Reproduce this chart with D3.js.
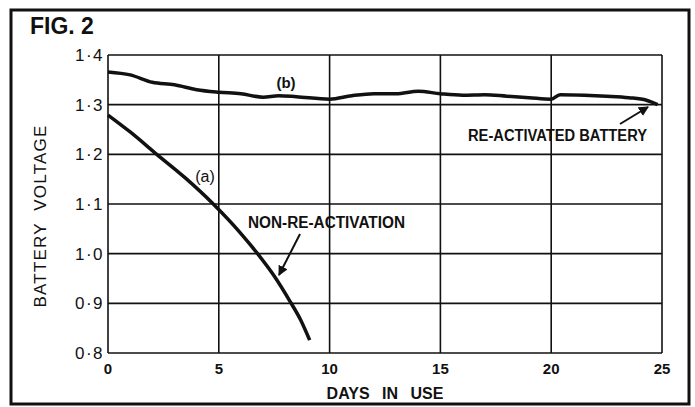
<!DOCTYPE html>
<html>
<head>
<meta charset="utf-8">
<script src="https://cdn.jsdelivr.net/npm/d3@7"></script>
<style>
  body { margin: 0; background: #fff; }
  text { font-family: "Liberation Sans", "DejaVu Sans", sans-serif; fill: #111; }
</style>
</head>
<body>
<div id="chart"></div>
<script>
// days and voltages
var daysA = [0, 1, 2.2, 3.5, 4.75, 5.95, 6.75, 7.5, 8.2, 8.7, 9.1];
var voltA = [1.279, 1.245, 1.200, 1.152, 1.100, 1.043, 1.000, 0.955, 0.905, 0.866, 0.826];

var daysB = [0, 1, 2, 3, 4, 5, 6, 7, 7.7, 8.5, 10, 11, 12, 13, 14, 15, 16, 17, 18, 19, 20, 20.4, 21.5, 22.5, 23.5, 24.3, 24.8];
var voltB = [1.366, 1.360, 1.345, 1.340, 1.330, 1.325, 1.322, 1.315, 1.318, 1.316, 1.311, 1.318, 1.322, 1.322, 1.327, 1.322, 1.319, 1.320, 1.317, 1.314, 1.311, 1.320, 1.319, 1.317, 1.314, 1.309, 1.300];

var xTicks = [0, 5, 10, 15, 20, 25];
var yTicks = [0.8, 0.9, 1.0, 1.1, 1.2, 1.3, 1.4];
var yTickLabels = ["0·8", "0·9", "1·0", "1·1", "1·2", "1·3", "1·4"];

var W = 695, H = 407;
var svg = d3.select("#chart").append("svg")
	.attr("width", W)
	.attr("height", H);

// outer frame
svg.append("rect")
	.attr("x", 11).attr("y", 10)
	.attr("width", 678).attr("height", 394)
	.attr("fill", "none")
	.attr("stroke", "#111")
	.attr("stroke-width", 3);

svg.append("text")
	.attr("x", 30).attr("y", 34)
	.attr("font-size", 23)
	.attr("font-weight", "bold")
	.text("FIG. 2");

var x = d3.scaleLinear().domain([0, 25]).range([108, 662]);
var y = d3.scaleLinear().domain([0.8, 1.4]).range([353, 55]);

// grid
svg.selectAll(".vgrid")
	.data(xTicks)
	.enter()
	.append("line")
	.attr("class", "vgrid")
	.attr("x1", function(d) { return x(d); })
	.attr("x2", function(d) { return x(d); })
	.attr("y1", y(1.4))
	.attr("y2", y(0.8))
	.attr("stroke", "#111")
	.attr("stroke-width", 1.6);

svg.selectAll(".hgrid")
	.data(yTicks)
	.enter()
	.append("line")
	.attr("class", "hgrid")
	.attr("x1", x(0))
	.attr("x2", x(25))
	.attr("y1", function(d) { return y(d); })
	.attr("y2", function(d) { return y(d); })
	.attr("stroke", "#111")
	.attr("stroke-width", 1.6);

// tick labels
svg.selectAll(".ylab")
	.data(yTicks)
	.enter()
	.append("text")
	.attr("class", "ylab")
	.attr("x", 104)
	.attr("y", function(d) { return y(d) + 6; })
	.attr("text-anchor", "end")
	.attr("font-size", 17)
	.attr("letter-spacing", 1.5)
	.text(function(d, i) { return yTickLabels[i]; });

svg.selectAll(".xlab")
	.data(xTicks)
	.enter()
	.append("text")
	.attr("class", "xlab")
	.attr("x", function(d) { return x(d); })
	.attr("y", 374)
	.attr("text-anchor", "middle")
	.attr("font-size", 15)
	.attr("font-weight", "bold")
	.text(function(d) { return d; });

svg.append("text")
	.attr("x", 385).attr("y", 399)
	.attr("text-anchor", "middle")
	.attr("font-size", 16)
	.attr("font-weight", "bold")
	.attr("word-spacing", 8)
	.text("DAYS IN USE");

svg.append("text")
	.attr("transform", "translate(46,216) rotate(-90)")
	.attr("text-anchor", "middle")
	.attr("font-size", 17)
	.attr("letter-spacing", 1.2)
	.attr("word-spacing", 6)
	.text("BATTERY VOLTAGE");

// curves
var line = d3.line()
	.x(function(d) { return x(d[0]); })
	.y(function(d) { return y(d[1]); })
	.curve(d3.curveMonotoneX);

svg.append("path")
	.datum(d3.zip(daysA, voltA))
	.attr("d", line)
	.attr("fill", "none")
	.attr("stroke", "#111")
	.attr("stroke-width", 3.5);

svg.append("path")
	.datum(d3.zip(daysB, voltB))
	.attr("d", line)
	.attr("fill", "none")
	.attr("stroke", "#111")
	.attr("stroke-width", 3.5);

// labels
svg.append("text")
	.attr("x", 205).attr("y", 182)
	.attr("text-anchor", "middle")
	.attr("font-size", 16)
	.text("(a)");

svg.append("text")
	.attr("x", 286).attr("y", 88)
	.attr("text-anchor", "middle")
	.attr("font-size", 15)
	.attr("font-weight", "bold")
	.text("(b)");

svg.append("text")
	.attr("x", 248).attr("y", 228)
	.attr("font-size", 16)
	.attr("font-weight", "bold")
	.attr("textLength", 157)
	.attr("lengthAdjust", "spacingAndGlyphs")
	.text("NON-RE-ACTIVATION");

svg.append("text")
	.attr("x", 468).attr("y", 141)
	.attr("font-size", 16)
	.attr("font-weight", "bold")
	.attr("textLength", 179)
	.attr("lengthAdjust", "spacingAndGlyphs")
	.text("RE-ACTIVATED BATTERY");

// arrows
var defs = svg.append("defs");
defs.append("marker")
	.attr("id", "arr")
	.attr("viewBox", "0 0 10 10")
	.attr("refX", 9).attr("refY", 5)
	.attr("markerWidth", 5).attr("markerHeight", 5)
	.attr("orient", "auto")
	.append("path")
	.attr("d", "M0,0 L10,5 L0,10 z")
	.attr("fill", "#111");

svg.append("line")
	.attr("x1", 300).attr("y1", 234)
	.attr("x2", 279).attr("y2", 275)
	.attr("stroke", "#111")
	.attr("stroke-width", 2)
	.attr("marker-end", "url(#arr)");

svg.append("line")
	.attr("x1", 620).attr("y1", 124)
	.attr("x2", 648).attr("y2", 107)
	.attr("stroke", "#111")
	.attr("stroke-width", 2)
	.attr("marker-end", "url(#arr)");
</script>
</body>
</html>
